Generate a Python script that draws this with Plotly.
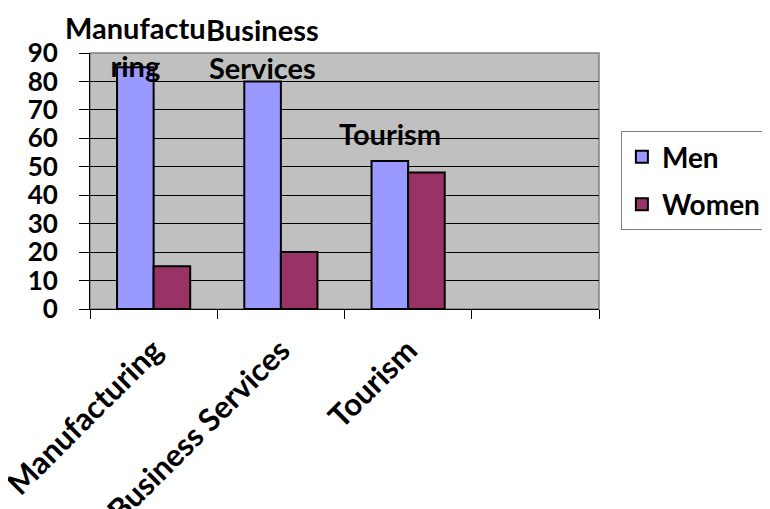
import plotly.graph_objects as go

categories = ["Manufacturing", "Business Services", "Tourism"]
n_slots = 4  # the chart keeps an empty fourth category slot
men = [85, 80, 52]
women = [15, 20, 48]
label_text = ["Manufactu<br>ring", "Business<br>Services", "Tourism"]
y_tick_vals = [0, 10, 20, 30, 40, 50, 60, 70, 80, 90]

# styling
FONT = "Lato"
BARGAP = 0.425
label_shift = [21, 33, 28]  # px, label centre above the Men bar top (first one is held down by the chart top)

x_pos = list(range(len(categories)))
boundaries = [i - 0.5 for i in range(n_slots + 1)]
men_offset = -(1 - BARGAP) / 4  # centre of the first bar in each group

fig = go.Figure()
fig.add_trace(go.Bar(
    name="Men", x=x_pos, y=men, legendgroup="men",
    marker=dict(color="#9999FF", line=dict(color="black", width=2)),
))
fig.add_trace(go.Bar(
    name="Women", x=x_pos, y=women, legendgroup="women",
    marker=dict(color="#993366", line=dict(color="black", width=2)),
))

annotations = []
for i, (txt, v) in enumerate(zip(label_text, men)):
    annotations.append(dict(
        x=x_pos[i] + men_offset, y=v, xref="x", yref="y", text=txt,
        showarrow=False, xanchor="center", yanchor="middle", align="center",
        yshift=label_shift[i],
        font=dict(family=FONT, size=29, color="black", weight="bold"),
    ))

fig.update_layout(
    width=762, height=501,
    margin=dict(l=82, r=171, t=45, b=200, autoexpand=False),
    paper_bgcolor="white", plot_bgcolor="#C0C0C0",
    barmode="group", bargap=BARGAP, bargroupgap=0,
    font=dict(family=FONT, size=28, color="black", weight="bold"),
    showlegend=True,
    legend=dict(
        x=1.043, y=0.695, xanchor="left", yanchor="top",
        bordercolor="#808080", borderwidth=1, bgcolor="white",
        font=dict(family=FONT, size=28, color="black", weight="bold"),
        traceorder="grouped", tracegroupgap=8, entrywidth=124,
    ),
    xaxis=dict(
        range=[-0.5, n_slots - 0.5], tickmode="array", tickvals=x_pos, ticktext=categories,
        tickangle=-45, ticks="", showgrid=False, zeroline=False,
        showline=True, linecolor="black", linewidth=1, automargin=False,
        tickfont=dict(family=FONT, size=31, color="black", weight="bold"),
        ticklabelstandoff=10, ticklabeloverflow="allow",
        minor=dict(tickmode="array", tickvals=boundaries, ticks="outside",
                   ticklen=9, tickcolor="black", tickwidth=1, showgrid=False),
    ),
    yaxis=dict(
        range=[0, 90], tickmode="array", tickvals=y_tick_vals,
        ticks="outside", ticklen=10, tickcolor="black", tickwidth=1,
        showgrid=True, gridcolor="black", gridwidth=1, zeroline=False,
        showline=True, linecolor="black", linewidth=1, automargin=False,
        tickfont=dict(family=FONT, size=26, color="black", weight="bold"),
        ticklabelstandoff=16,
    ),
    annotations=annotations,
    shapes=[dict(type="rect", xref="paper", yref="paper", x0=0, x1=1, y0=0, y1=1,
                 line=dict(color="#808080", width=1.5), layer="below")],
)

fig.write_html("out.html")
